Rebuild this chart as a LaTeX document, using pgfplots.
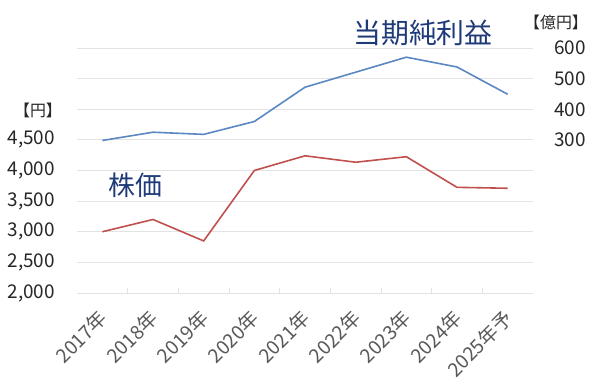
\documentclass[border=0pt]{standalone}
\usepackage{pgfplots}
\pgfplotsset{compat=1.18}
\usepackage{fontspec}
\setmainfont{Noto Sans CJK JP}
\definecolor{blueline}{HTML}{5B87C2}
\definecolor{redline}{HTML}{C0504D}
\definecolor{titleblue}{HTML}{1F3A78}
\definecolor{gridgray}{HTML}{E3E3E3}
\definecolor{ticklab}{HTML}{595959}
\definecolor{numcol}{HTML}{262626}
\begin{document}
\begin{tikzpicture}
\useasboundingbox (0bp,0bp) rectangle (600bp,390bp);
\begin{axis}[
  at={(77bp,97bp)}, anchor=south west, scale only axis,
  width=456bp, height=245bp,
  xmin=-0.5, xmax=8.5, ymin=2000, ymax=6000,
  axis x line*=bottom, axis y line*=left,
  y axis line style={draw=none},
  x axis line style={gridgray, line width=1bp},
  xtick={0,...,8},
  xticklabels={2017年,2018年,2019年,2020年,2021年,2022年,2023年,2024年,2025年予},
  minor xtick={0.5,1.5,...,7.5},
  major tick length=0pt, minor tick length=5bp,
  minor tick style={gridgray, line width=0.8bp},
  tick align=inside,
  xticklabel style={font=\fontsize{19.5}{20}\selectfont, color=ticklab, xshift=2bp, yshift=-21bp, rotate=45, anchor=east, inner sep=1bp},
  ytick={2000,2500,...,6000},
  yticklabels={{2,000},{2,500},{3,000},{3,500},{4,000},{4,500},{},{},{}},
  yticklabel style={font=\fontsize{19}{20}\selectfont, color=numcol, anchor=east, inner sep=0pt, xshift=-22bp},
  ymajorgrids, grid style={gridgray, line width=0.8bp},
  clip=false,
]
\addplot[redline, line width=1.6bp] coordinates {(0,3000)(1,3200)(2,2850)(3,4000)(4,4240)(5,4135)(6,4225)(7,3725)(8,3710)};
\end{axis}
\begin{axis}[
  at={(77bp,97bp)}, anchor=south west, scale only axis,
  width=456bp, height=245bp,
  xmin=-0.5, xmax=8.5, ymin=-200, ymax=600,
  axis x line=none, axis y line*=right,
  y axis line style={draw=none},
  major tick length=0pt,
  ytick={300,400,500,600},
  /pgf/number format/assume math mode=true,
  yticklabel style={font=\fontsize{19}{20}\selectfont, color=numcol, anchor=west, inner sep=0pt, xshift=21bp},
  clip=false,
]
\addplot[blueline, line width=1.6bp] coordinates {(0,298)(1,325)(2,318)(3,360)(4,472)(5,521)(6,570)(7,538)(8,449)};
\end{axis}
\node[font=\fontsize{28}{30}\selectfont, color=titleblue, inner sep=0pt] at (423bp,357bp) {当期純利益};
\node[font=\fontsize{27}{30}\selectfont, color=titleblue, inner sep=0pt] at (135bp,205bp) {株価};
\node[font=\fontsize{16}{18}\selectfont, color=numcol, inner sep=0pt] at (38bp,280bp) {【円】};
\node[font=\fontsize{16}{18}\selectfont, color=numcol, inner sep=0pt] at (556bp,368bp) {【億円】};
\end{tikzpicture}
\end{document}
